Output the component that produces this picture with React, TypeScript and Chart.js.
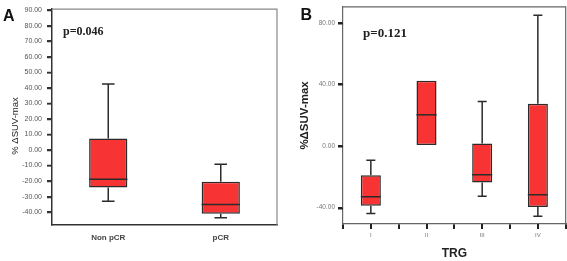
import React, { useEffect, useRef } from 'react';
import { Chart, registerables } from 'chart.js';

Chart.register(...registerables);

// ---------- Panel A data ----------
const labelsA = ['Non pCR', 'pCR'];
const minA = [-33.0, -43.6];
const q1A = [-24.1, -41.1];
const medA = [-18.8, -35.1];
const q3A = [7.4, -20.5];
const maxA = [42.4, -9.2];
const yTicksA = [90, 80, 70, 60, 50, 40, 30, 20, 10, 0, -10, -20, -30, -40];

// ---------- Panel B data ----------
const labelsB = ['I', 'II', 'III', 'IV'];
const minB = [-43.9, 0, -32.6, -45.6];
const q1B = [-38.8, 0, -23.8, -39.7];
const medB = [-33.0, 20.2, -18.7, -31.7];
const q3B = [-19.1, 42.4, 1.6, 27.4];
const maxB = [-9.3, 42.4, 28.9, 84.9];
const yTicksB = [80, 40, 0, -40];

const SANS = "'Liberation Sans', Arial, sans-serif";
const SERIF = "'Liberation Serif', 'Times New Roman', serif";
const BOX_FILL = '#f83333';
const BOX_LINE = '#2b2b2b';

function makeBoxPlugin(min: number[], q1: number[], med: number[], q3: number[], max: number[], capFrac: number) {
  return {
    id: 'boxWhiskers',
    afterDatasetsDraw(chart: any) {
      const y = chart.scales.y;
      const ctx = chart.ctx;
      const meta = chart.getDatasetMeta(0);
      ctx.save();
      ctx.strokeStyle = BOX_LINE;
      ctx.lineWidth = 1.5;
      meta.data.forEach((el: any, i: number) => {
        const { x, width } = el.getProps(['x', 'width'], true);
        const cap = (width * capFrac) / 2;
        const pMin = y.getPixelForValue(min[i]);
        const pQ1 = y.getPixelForValue(q1[i]);
        const pMed = y.getPixelForValue(med[i]);
        const pQ3 = y.getPixelForValue(q3[i]);
        const pMax = y.getPixelForValue(max[i]);
        ctx.beginPath();
        if (max[i] > q3[i]) {
          ctx.moveTo(x, pQ3);
          ctx.lineTo(x, pMax);
          ctx.moveTo(x - cap, pMax);
          ctx.lineTo(x + cap, pMax);
        }
        if (min[i] < q1[i]) {
          ctx.moveTo(x, pQ1);
          ctx.lineTo(x, pMin);
          ctx.moveTo(x - cap, pMin);
          ctx.lineTo(x + cap, pMin);
        }
        ctx.moveTo(x - width / 2, pMed);
        ctx.lineTo(x + width / 2, pMed);
        ctx.stroke();
      });
      ctx.restore();
    },
  };
}

// frame (top/right edges of the plot) and axis tick marks, drawn from the chart's own scales
function makeFramePlugin(color: string, tickColor: string, tickWidth: number, drawXTicks: boolean) {
  return {
    id: 'frame',
    afterDraw(chart: any) {
      const { left, right, top, bottom } = chart.chartArea;
      const ctx = chart.ctx;
      ctx.save();
      ctx.strokeStyle = color;
      ctx.lineWidth = 1.2;
      ctx.beginPath();
      ctx.moveTo(left, top);
      ctx.lineTo(right, top);
      ctx.lineTo(right, bottom);
      ctx.stroke();

      ctx.strokeStyle = tickColor;
      ctx.lineWidth = tickWidth;
      ctx.beginPath();
      const ys = chart.scales.y;
      ys.ticks.forEach((_t: any, i: number) => {
        const p = Math.round(ys.getPixelForTick(i)) + 0.5;
        ctx.moveTo(ys.right - 5, p);
        ctx.lineTo(ys.right, p);
      });
      if (drawXTicks) {
        const xs = chart.scales.x;
        xs.ticks.forEach((_t: any, i: number) => {
          const p = Math.round(xs.getPixelForTick(i));
          ctx.moveTo(p, xs.top);
          ctx.lineTo(p, xs.top + 5);
        });
      }
      ctx.stroke();
      ctx.restore();
    },
  };
}

type TextItem = { text: string; x: number; y: number; font: string; color: string; rotate?: boolean; align?: CanvasTextAlign; baseline?: CanvasTextBaseline };

function makeTextPlugin(items: TextItem[]) {
  return {
    id: 'texts',
    afterDraw(chart: any) {
      const ctx = chart.ctx;
      items.forEach((it) => {
        ctx.save();
        ctx.font = it.font;
        ctx.fillStyle = it.color;
        ctx.textAlign = it.align || 'left';
        ctx.textBaseline = it.baseline || 'alphabetic';
        ctx.translate(it.x, it.y);
        if (it.rotate) ctx.rotate(-Math.PI / 2);
        ctx.fillText(it.text, 0, 0);
        ctx.restore();
      });
    },
  };
}

function boxData(labels: string[], q1: number[], q3: number[], barPct: number) {
  return {
    labels,
    datasets: [
      {
        data: q1.map((v, i) => [v, q3[i]]),
        backgroundColor: BOX_FILL,
        borderColor: BOX_LINE,
        borderWidth: 1.5,
        borderSkipped: false,
        barPercentage: barPct,
        categoryPercentage: 1,
      },
    ],
  };
}

export default function App() {
  const refA = useRef<HTMLCanvasElement>(null);
  const refB = useRef<HTMLCanvasElement>(null);

  useEffect(() => {
    document.body.style.margin = '0';
    const chartA = new Chart(refA.current as HTMLCanvasElement, {
      type: 'bar',
      data: boxData(labelsA, q1A, q3A, 0.34) as any,
      options: {
        animation: false,
        responsive: false,
        layout: { padding: { top: 7, right: 3, left: 0, bottom: 0 } },
        plugins: { legend: { display: false }, tooltip: { enabled: false } },
        scales: {
          x: {
            type: 'category',
            offset: true,
            grid: { display: true, drawOnChartArea: false, drawTicks: false },
            border: { display: true, color: '#333', width: 1.5 },
            ticks: { font: { family: SANS, size: 8, weight: 'bold' }, color: '#444', padding: 8 },
            afterFit: (s: any) => { s.height = 36; },
          },
          y: {
            type: 'linear',
            min: -48.3,
            max: 90.6,
            afterBuildTicks: (s: any) => { s.ticks = yTicksA.map((v) => ({ value: v })); },
            ticks: {
              font: { family: SANS, size: 7 },
              color: '#555',
              padding: 5,
              callback: (v: any) => Number(v).toFixed(2),
            },
            grid: { drawOnChartArea: false, drawTicks: true, tickLength: 5, color: '#333', lineWidth: 1.5 },
            border: { display: true, color: '#333', width: 1.5 },
            afterFit: (s: any) => { s.width = 52; },
          },
        },
      } as any,
      plugins: [
        makeBoxPlugin(minA, q1A, medA, q3A, maxA, 0.33),
        makeFramePlugin('#888', '#333', 1.6, false),
        makeTextPlugin([
          { text: 'A', x: 3, y: 21, font: `bold 16px ${SANS}`, color: '#111' },
          { text: 'p=0.046', x: 63, y: 35, font: `bold 12px ${SERIF}`, color: '#222' },
          { text: '% ΔSUV-max', x: 15, y: 126, font: `9.5px ${SANS}`, color: '#222', rotate: true, align: 'center', baseline: 'middle' },
        ]),
      ],
    });

    const chartB = new Chart(refB.current as HTMLCanvasElement, {
      type: 'bar',
      data: boxData(labelsB, q1B, q3B, 0.36) as any,
      options: {
        animation: false,
        responsive: false,
        layout: { padding: { top: 4, right: 1.3, left: 0, bottom: 0 } },
        plugins: { legend: { display: false }, tooltip: { enabled: false } },
        scales: {
          x: {
            type: 'category',
            offset: true,
            grid: { display: true, drawOnChartArea: false, drawTicks: true, tickLength: 5, color: '#222', lineWidth: 2 },
            border: { display: true, color: '#666', width: 1.2 },
            ticks: { font: { family: SANS, size: 6 }, color: '#777', padding: 3 },
            title: {
              display: true,
              text: 'TRG',
              font: { family: SANS, size: 12, weight: 'bold' },
              color: '#222',
              padding: { top: 0, bottom: 0 },
            },
            afterFit: (s: any) => { s.height = 37; },
          },
          y: {
            type: 'linear',
            min: -50.7,
            max: 90.3,
            afterBuildTicks: (s: any) => { s.ticks = yTicksB.map((v) => ({ value: v })); },
            ticks: {
              font: { family: SANS, size: 6.5 },
              color: '#777',
              padding: 3,
              callback: (v: any) => Number(v).toFixed(2),
            },
            grid: { drawOnChartArea: false, drawTicks: true, tickLength: 5, color: '#222', lineWidth: 2 },
            border: { display: true, color: '#666', width: 1.2 },
            title: {
              display: true,
              text: '%ΔSUV-max',
              font: { family: SANS, size: 11.5, weight: 'bold' },
              color: '#222',
              padding: { top: 18, bottom: 0 },
            },
            afterFit: (s: any) => { s.width = 63; },
          },
        },
      } as any,
      plugins: [
        makeBoxPlugin(minB, q1B, medB, q3B, maxB, 0.45),
        makeFramePlugin('#666', '#222', 2, true),
        makeTextPlugin([
          { text: 'B', x: 20.5, y: 20, font: `bold 16px ${SANS}`, color: '#111' },
          { text: 'p=0.121', x: 83, y: 37, font: `bold 13px ${SERIF}`, color: '#222' },
        ]),
      ],
    });

    return () => {
      chartA.destroy();
      chartB.destroy();
    };
  }, []);

  return (
    <div style={{ position: 'absolute', left: 0, top: 0, width: 567, height: 261, background: '#fff' }}>
      <canvas ref={refA} width={280} height={261} style={{ position: 'absolute', left: 0, top: 0, width: 280, height: 261 }} />
      <canvas ref={refB} width={287} height={261} style={{ position: 'absolute', left: 280, top: 0, width: 287, height: 261 }} />
    </div>
  );
}
